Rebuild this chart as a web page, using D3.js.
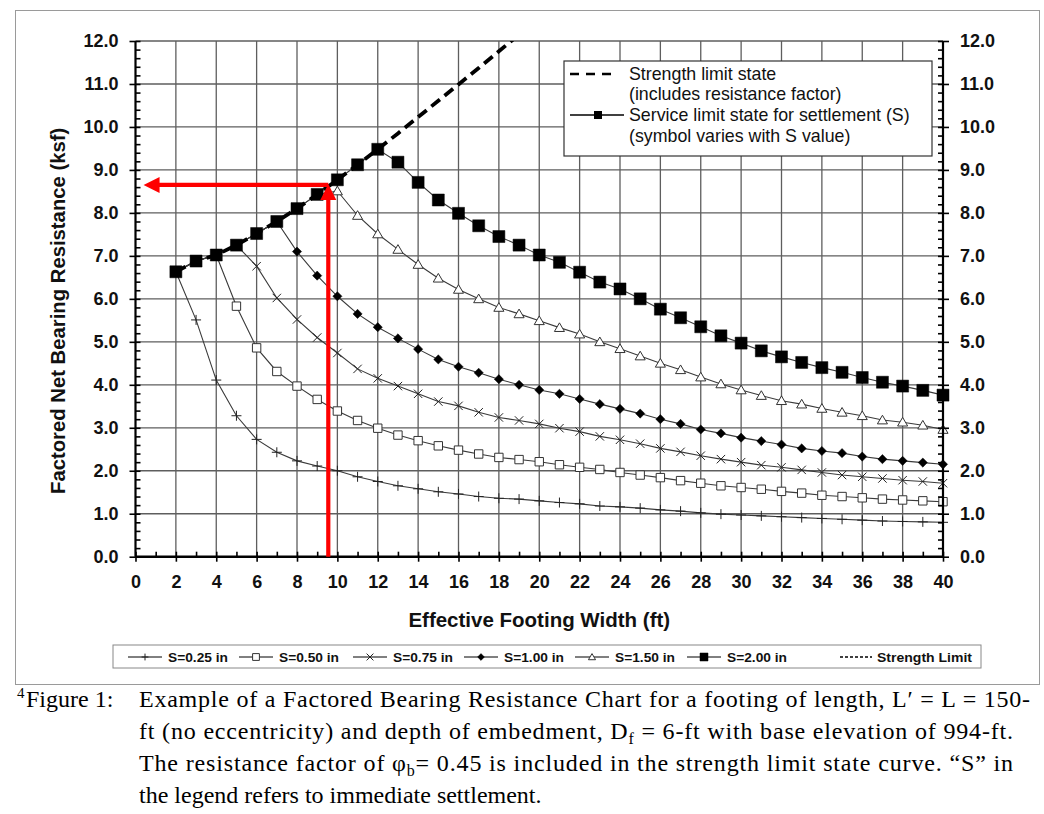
<!DOCTYPE html>
<html><head><meta charset="utf-8">
<script src="https://cdn.jsdelivr.net/npm/d3@7"></script>
<style>
html,body{margin:0;padding:0;background:#fff;}
svg{display:block;}
</style></head>
<body>
<svg id="chart" width="1044" height="814"></svg>
<script>
// ---------------- data ----------------
const widths = d3.range(2, 41); // effective footing width, ft (2..40)
const strengthWidths = d3.range(2, 20);
const strengthLimit = [6.63,6.88,7.02,7.25,7.52,7.80,8.10,8.43,8.77,9.12,9.48,9.85,10.23,10.61,10.99,11.37,11.76,12.15];
const s025 = [6.63,5.51,4.11,3.28,2.73,2.43,2.23,2.11,2.00,1.86,1.75,1.65,1.58,1.51,1.46,1.40,1.36,1.34,1.30,1.26,1.23,1.18,1.16,1.13,1.09,1.06,1.02,0.99,0.97,0.95,0.93,0.91,0.89,0.87,0.85,0.83,0.82,0.81,0.80];
const s050 = [6.63,6.88,7.02,5.83,4.86,4.31,3.97,3.66,3.39,3.17,2.99,2.83,2.70,2.58,2.48,2.39,2.31,2.26,2.21,2.14,2.08,2.03,1.96,1.90,1.84,1.77,1.71,1.65,1.61,1.57,1.52,1.48,1.43,1.40,1.37,1.34,1.32,1.30,1.28];
const s075 = [6.63,6.88,7.02,7.25,6.76,6.02,5.52,5.10,4.74,4.37,4.15,3.97,3.79,3.61,3.51,3.36,3.24,3.17,3.09,2.99,2.91,2.80,2.72,2.63,2.52,2.44,2.35,2.27,2.20,2.13,2.08,2.02,1.96,1.90,1.86,1.82,1.78,1.75,1.71];
const s100 = [6.63,6.88,7.02,7.25,7.52,7.80,7.10,6.54,6.06,5.65,5.34,5.08,4.83,4.59,4.42,4.28,4.13,4.00,3.88,3.79,3.67,3.55,3.44,3.33,3.20,3.09,2.96,2.87,2.77,2.69,2.61,2.52,2.46,2.41,2.33,2.27,2.23,2.19,2.15];
const s150 = [6.63,6.88,7.02,7.25,7.52,7.80,8.10,8.43,8.51,7.94,7.51,7.15,6.80,6.48,6.22,6.00,5.80,5.65,5.49,5.33,5.18,5.00,4.84,4.67,4.50,4.35,4.18,4.02,3.88,3.75,3.63,3.55,3.45,3.36,3.28,3.18,3.13,3.06,2.96];
const s200 = [6.63,6.88,7.02,7.25,7.52,7.80,8.10,8.43,8.77,9.12,9.48,9.18,8.71,8.30,7.99,7.70,7.45,7.25,7.02,6.85,6.62,6.39,6.23,6.00,5.76,5.56,5.35,5.14,4.97,4.79,4.65,4.52,4.40,4.29,4.17,4.06,3.97,3.87,3.76];
const seriesNames = ["S=0.25 in","S=0.50 in","S=0.75 in","S=1.00 in","S=1.50 in","S=2.00 in"];
const seriesSymbols = ["plus","square","times","diamond","triangle","fsquare"];
const xTicks = d3.range(0, 41, 2);
const yTicks = d3.range(0, 12.01, 1);
const arrowWidth = 9.55, arrowResistance = 8.65;
const topLegend = ["Strength limit state","(includes resistance factor)","Service limit state for settlement (S)","(symbol varies with S value)"];

// ---------------- layout ----------------
const svg = d3.select("#chart");
const x = d3.scaleLinear().domain([0, 40]).range([135.5, 943]);
const y = d3.scaleLinear().domain([0, 12]).range([556.7, 41]);
const F = "'Liberation Sans', Arial, sans-serif";

// outer frame
svg.append("rect").attr("x",15.5).attr("y",10.5).attr("width",1024).attr("height",674)
  .attr("fill","none").attr("stroke","#9a9a9a").attr("stroke-width",1);

// grid
const grid = svg.append("g");
grid.selectAll("line.v").data(xTicks.filter(d=>d>0&&d<40)).join("line")
  .attr("x1",d=>x(d)).attr("x2",d=>x(d)).attr("y1",y(12)).attr("y2",y(0))
  .attr("stroke","#5e5e5e").attr("stroke-width",1.3);
grid.selectAll("line.h").data(yTicks.filter(d=>d>0)).join("line")
  .attr("x1",x(0)).attr("x2",x(40)).attr("y1",d=>y(d)).attr("y2",d=>y(d))
  .attr("stroke","#5e5e5e").attr("stroke-width",1.3);

// clip
svg.append("clipPath").attr("id","plotclip").append("rect")
  .attr("x",x(0)).attr("y",y(12)).attr("width",x(40)-x(0)).attr("height",y(0)-y(12));

// marker generator
function sym(type, s){
  switch(type){
    case "plus": return `M${-s},0H${s}M0,${-s}V${s}`;
    case "times": return `M${-s},${-s}L${s},${s}M${-s},${s}L${s},${-s}`;
    case "square": case "fsquare": return `M${-s},${-s}H${s}V${s}H${-s}Z`;
    case "diamond": return `M0,${-s}L${s},0L0,${s}L${-s},0Z`;
    case "triangle": return `M0,${-s}L${s*1.05},${s*0.8}H${-s*1.05}Z`;
  }
}
const symSize = {plus:5, times:4.2, square:4.2, diamond:4.6, triangle:4.8, fsquare:6};
function styleMarker(sel, type){
  if(type==="plus"||type==="times") sel.attr("fill","none").attr("stroke","#222").attr("stroke-width",1);
  else if(type==="square"||type==="triangle") sel.attr("fill","#fff").attr("stroke","#333").attr("stroke-width",1);
  else sel.attr("fill","#000").attr("stroke","#000").attr("stroke-width",0.5);
}

const allSeries = [s025,s050,s075,s100,s150,s200];
const line = d3.line().x(d=>x(d[0])).y(d=>y(d[1]));
const plot = svg.append("g").attr("clip-path","url(#plotclip)");

// series lines
allSeries.forEach((vals,i)=>{
  const pts = widths.map((w,j)=>[w, vals[j]]);
  plot.append("path").datum(pts).attr("d",line).attr("fill","none")
    .attr("stroke","#3a3a3a").attr("stroke-width",1.1);
});
// strength limit dashed
plot.append("path").datum(strengthWidths.map((w,j)=>[w,strengthLimit[j]])).attr("d",line)
  .attr("fill","none").attr("stroke","#000").attr("stroke-width",3.8).attr("stroke-dasharray","11,6");
// markers
allSeries.forEach((vals,i)=>{
  const t = seriesSymbols[i];
  const pts = widths.map((w,j)=>[w, vals[j]]);
  const g = svg.append("g");
  g.selectAll("path").data(pts).join("path")
    .attr("transform",d=>`translate(${x(d[0])},${y(d[1])})`)
    .attr("d",sym(t, symSize[t])).call(styleMarker, t);
});

// axes
const gl = svg.append("g").attr("transform",`translate(${x(0)},0)`);
gl.call(d3.axisLeft(y).tickValues(yTicks).tickSize(6).tickPadding(11).tickFormat(d3.format(".1f")));
const glm = svg.append("g").attr("transform",`translate(${x(0)},0)`);
glm.call(d3.axisRight(y).tickValues(d3.range(0,12.01,0.2)).tickSize(5).tickFormat(""));
const gr = svg.append("g").attr("transform",`translate(${x(40)},0)`);
gr.call(d3.axisRight(y).tickValues(yTicks).tickSize(6).tickPadding(11).tickFormat(d3.format(".1f")));
const grm = svg.append("g").attr("transform",`translate(${x(40)},0)`);
grm.call(d3.axisLeft(y).tickValues(d3.range(0,12.01,0.2)).tickSize(5).tickFormat(""));
const gb = svg.append("g").attr("transform",`translate(0,${y(0)})`);
gb.call(d3.axisBottom(x).tickValues(xTicks).tickSize(5).tickPadding(14).tickFormat(d3.format("d")));
const gbm = svg.append("g").attr("transform",`translate(0,${y(0)})`);
gbm.call(d3.axisTop(x).tickValues(d3.range(0,41,1)).tickSize(5).tickFormat(""));
[gl,glm,gr,grm,gb,gbm].forEach(g=>{
  g.selectAll(".domain").attr("stroke","#000").attr("stroke-width",2.2);
  g.selectAll(".tick line").attr("stroke","#000").attr("stroke-width",1.6);
  g.selectAll(".tick text").attr("font-family",F).attr("font-size",18).attr("font-weight","bold").attr("fill","#111");
});
gl.selectAll(".domain").attr("d",`M0,${y(12)}V${y(0)}`);
gr.selectAll(".domain").attr("d",`M0,${y(12)}V${y(0)}`);
glm.selectAll(".domain").remove(); grm.selectAll(".domain").remove(); gbm.selectAll(".domain").remove();
gb.selectAll(".domain").attr("d",`M${x(0)},0H${x(40)}`).attr("stroke-width",2.6);

// axis titles
svg.append("text").attr("transform",`translate(65,${(y(0)+y(12))/2+12}) rotate(-90)`)
  .attr("text-anchor","middle").attr("font-family",F).attr("font-size",20.3).attr("font-weight","bold")
  .attr("fill","#111").text("Factored Net Bearing Resistance (ksf)");
svg.append("text").attr("x",(x(0)+x(40))/2).attr("y",627).attr("text-anchor","middle")
  .attr("font-family",F).attr("font-size",20.5).attr("font-weight","bold").attr("fill","#111")
  .text("Effective Footing Width (ft)");

// red arrows
const red = "#ff0000";
svg.append("line").attr("x1",x(arrowWidth)).attr("x2",x(arrowWidth)).attr("y1",y(0)).attr("y2",y(arrowResistance)+14)
  .attr("stroke",red).attr("stroke-width",4.2);
svg.append("path").attr("d",`M${x(arrowWidth)},${y(arrowResistance)-1}l-8,16h16z`).attr("fill",red);
svg.append("line").attr("x1",x(arrowWidth)).attr("x2",x(0.4)+14).attr("y1",y(arrowResistance)).attr("y2",y(arrowResistance))
  .attr("stroke",red).attr("stroke-width",4.2);
svg.append("path").attr("d",`M${x(0.4)},${y(arrowResistance)}l16,-8v16z`).attr("fill",red);

// top-right legend
const lg = svg.append("g");
lg.append("rect").attr("x",564).attr("y",61).attr("width",368).attr("height",95)
  .attr("fill","#fff").attr("stroke","#333").attr("stroke-width",1.2);
lg.append("line").attr("x1",570).attr("x2",618).attr("y1",74).attr("y2",74)
  .attr("stroke","#000").attr("stroke-width",2.4).attr("stroke-dasharray","9,7");
lg.append("line").attr("x1",570).attr("x2",624).attr("y1",115).attr("y2",115)
  .attr("stroke","#000").attr("stroke-width",1.3);
lg.append("path").attr("transform","translate(598,115)").attr("d",sym("fsquare",4)).attr("fill","#000");
lg.selectAll("text").data(topLegend).join("text")
  .attr("x",629).attr("y",(d,i)=>79.5+i*20.8)
  .attr("font-family",F).attr("font-size",17.8).attr("fill","#111").text(d=>d);

// bottom legend
const bl = svg.append("g");
bl.append("rect").attr("x",113).attr("y",645).attr("width",868).attr("height",23)
  .attr("fill","#fff").attr("stroke","#888").attr("stroke-width",1);
const entryX = [128,239,353,464,575,687];
seriesNames.forEach((n,i)=>{
  const ex = entryX[i], ey = 657;
  bl.append("line").attr("x1",ex).attr("x2",ex+34).attr("y1",ey).attr("y2",ey).attr("stroke","#000").attr("stroke-width",1);
  const t = seriesSymbols[i];
  bl.append("path").attr("transform",`translate(${ex+17},${ey})`).attr("d",sym(t, t==="fsquare"?4:3.4)).call(styleMarker,t);
  bl.append("text").attr("x",ex+40).attr("y",ey+4.5).attr("font-family",F)
    .attr("font-size",13).attr("font-weight","bold").attr("fill","#111")
    .attr("textLength",60).attr("lengthAdjust","spacingAndGlyphs").text(n);
});
bl.append("line").attr("x1",840).attr("x2",872).attr("y1",657).attr("y2",657).attr("stroke","#000")
  .attr("stroke-width",1.3).attr("stroke-dasharray","3,2");
bl.append("text").attr("x",877).attr("y",661.5).attr("font-family",F)
  .attr("font-size",13).attr("font-weight","bold").attr("fill","#111")
  .attr("textLength",95).attr("lengthAdjust","spacingAndGlyphs").text("Strength Limit");

// caption
const SF = "'Liberation Serif', 'Times New Roman', serif";
const cap = svg.append("g").attr("font-family",SF).attr("font-size",24).attr("fill","#000");
cap.append("text").attr("x",17).attr("y",698).attr("font-size",15).text("4");
cap.append("text").attr("x",26).attr("y",707).text("Figure 1:");
const l1 = cap.append("text").attr("x",139).attr("y",707).attr("textLength",891).attr("lengthAdjust","spacing");
l1.text("Example of a Factored Bearing Resistance Chart for a footing of length, L\u2032 = L = 150-");
const l2 = cap.append("text").attr("x",139).attr("y",739).attr("textLength",874).attr("lengthAdjust","spacing");
l2.append("tspan").text("ft (no eccentricity) and depth of embedment, D");
l2.append("tspan").attr("font-size",16).attr("dy",5).text("f");
l2.append("tspan").attr("dy",-5).text(" = 6-ft with base elevation of 994-ft.");
const l3 = cap.append("text").attr("x",139).attr("y",771).attr("textLength",874).attr("lengthAdjust","spacing");
l3.append("tspan").text("The resistance factor of \u03c6");
l3.append("tspan").attr("font-size",16).attr("dy",5).text("b");
l3.append("tspan").attr("dy",-5).text("= 0.45 is included in the strength limit state curve.  \u201cS\u201d in");
cap.append("text").attr("x",139).attr("y",803).text("the legend refers to immediate settlement.");
</script>
</body></html>
